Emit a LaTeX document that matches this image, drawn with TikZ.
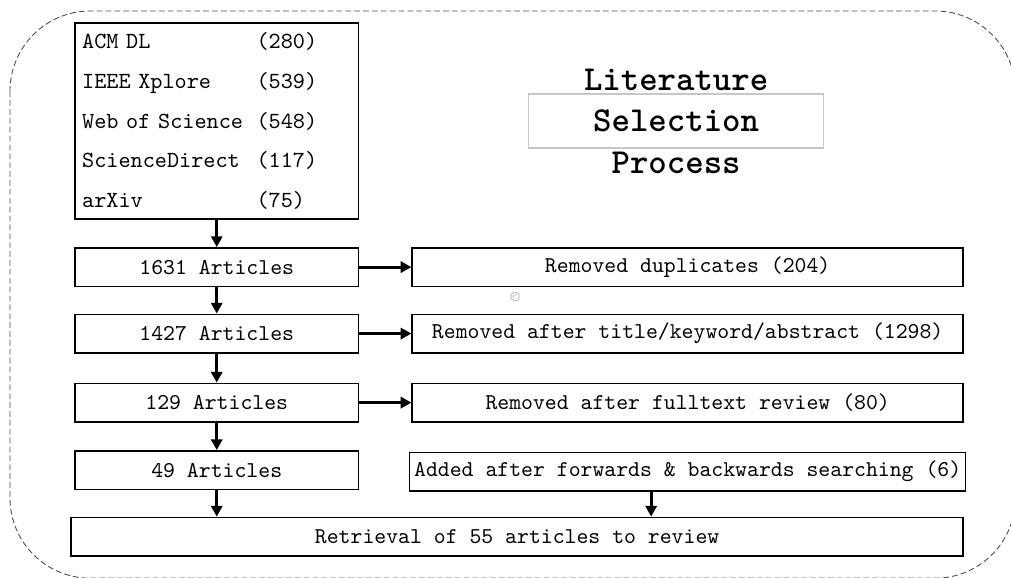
\documentclass[tikz,border=0pt]{standalone}
\usepackage{tikz}
\usetikzlibrary{arrows.meta}

\newcommand{\boxfont}{\fontsize{10.2pt}{12.2pt}\selectfont\ttfamily}
\newcommand{\listfont}{\fontsize{10.4pt}{17.95pt}\selectfont\ttfamily}
\newcommand{\titlefont}{\fontsize{15.8pt}{18pt}\selectfont\ttfamily\bfseries}
\newcommand{\srcline}[2]{\makebox[2.76cm][l]{#1}#2}

\begin{document}
\begin{tikzpicture}[
    box/.style={rectangle, draw, line width=0.7pt, minimum height=0.61cm, font=\boxfont, inner sep=2pt},
    leftbox/.style={box, minimum width=4.49cm},
    rightbox/.style={box, minimum width=8.72cm},
    arr/.style={-{Triangle[length=4.8pt, width=5pt]}, line width=1.35pt},
    ttl/.style={font=\titlefont},
    frame/.style={draw=black!70, line width=0.4pt, dash pattern=on 2.6pt off 1.4pt, rounded corners=1.27cm},
]
\path[use as bounding box, clip] (0,0) rectangle (16,-9.132);

% dashed outer frame
\draw[frame] (0.158,-0.174) rectangle (16.07,-9.15);

% ========== SOURCES ==========
\node[box, font=\listfont, minimum width=4.48cm, minimum height=3.10cm, text width=4.26cm, align=left] at (3.43,-1.915) (sources) {%
    \srcline{ACM DL}{(280)}\\
    \srcline{IEEE Xplore}{(539)}\\
    \srcline{Web of Science}{(548)}\\
    \srcline{ScienceDirect}{(117)}\\
    \srcline{arXiv}{(75)}};

% ========== TITLE ==========
\node[ttl] at (10.70,-1.266) (lit_title) {Literature};
\node[ttl, draw=black!22, line width=0.5pt, minimum width=4.67cm, minimum height=0.855cm] at (10.70,-1.915) (sel_title) {Selection};
\node[ttl] at (10.70,-2.580) (proc_title) {Process};

% ========== LEFT COLUMN: remaining articles ==========
\node[leftbox] at (3.43,-4.227) (art_all) {1631 Articles};
\node[leftbox] at (3.43,-5.279) (art_dedup) {1427 Articles};
\node[leftbox] at (3.43,-6.372) (art_screen) {129 Articles};
\node[leftbox] at (3.43,-7.440) (art_full) {49 Articles};

% ========== RIGHT COLUMN: removed / added ==========
\node[rightbox] at (10.883,-4.227) (rm_dup) {Removed duplicates (204)};
\node[rightbox] at (10.883,-5.279) (rm_abs) {Removed after title/keyword/abstract (1298)};
\node[rightbox] at (10.883,-6.372) (rm_full) {Removed after fulltext review (80)};
\node[rightbox] at (10.883,-7.464) (added) {Added after forwards \& backwards searching (6)};

% ========== RESULT ==========
\node[box, minimum width=14.12cm] at (8.184,-8.493) (final) {Retrieval of 55 articles to review};

\node[text=black!40, font=\fontsize{6pt}{7pt}\selectfont, inner sep=0pt] at (8.152,-4.702) (copy_mark) {\textcopyright};

% ========== CONNECTIONS ==========
\draw[arr] (sources.south) -- (art_all.north);
\draw[arr] (art_all.south) -- (art_dedup.north);
\draw[arr] (art_dedup.south) -- (art_screen.north);
\draw[arr] (art_screen.south) -- (art_full.north);

\draw[arr] (art_all.east) -- (rm_dup.west);
\draw[arr] (art_dedup.east) -- (rm_abs.west);
\draw[arr] (art_screen.east) -- (rm_full.west);

\draw[arr] (art_full.south) -- (art_full.south |- final.north);
\draw[arr] ([xshift=-0.578cm]added.south) -- ([xshift=-0.578cm]added.south |- final.north);

\end{tikzpicture}
\end{document}
